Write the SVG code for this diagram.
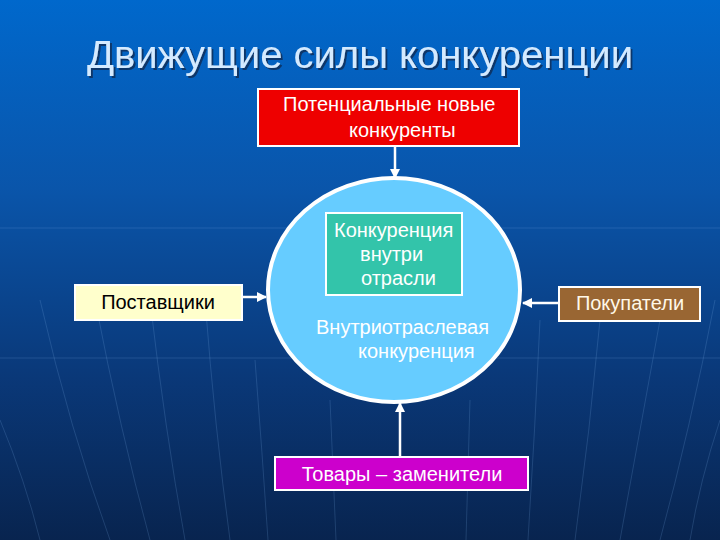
<svg xmlns="http://www.w3.org/2000/svg" width="720" height="540" viewBox="0 0 720 540">
<defs>
<linearGradient id="bg" x1="0" y1="0" x2="0" y2="1">
<stop offset="0" stop-color="#0068CC"/>
<stop offset="0.35" stop-color="#0A55AA"/>
<stop offset="0.7" stop-color="#0A3878"/>
<stop offset="1" stop-color="#08244F"/>
</linearGradient>
<filter id="shadow" x="-5%" y="-20%" width="110%" height="150%">
<feDropShadow dx="2" dy="2" stdDeviation="0.6" flood-color="#0A2A55" flood-opacity="0.8"/>
</filter>
<marker id="ah" viewBox="0 0 10 10" refX="9" refY="5" markerWidth="4" markerHeight="4" orient="auto" markerUnits="strokeWidth">
<path d="M0,0 L10,5 L0,10 z" fill="#FFFFFF"/>
</marker>
<style>
.t{font-family:"Liberation Sans",Arial,sans-serif;font-size:20px;fill:#FFFFFF}
.box{stroke:#FFFFFF;stroke-width:2}
.con{stroke:#FFFFFF;stroke-width:2.5;fill:none;marker-end:url(#ah)}
.grid{stroke:#7FB0E8;stroke-opacity:0.2;stroke-width:1;fill:none}
</style>
</defs>
<rect width="720" height="540" fill="url(#bg)"/>
<g id="background-lines">
<path class="grid" d="M0,228 L720,228"/>
<path class="grid" d="M0,358 L720,358"/>
<path class="grid" d="M40,300 Q70,430 110,540"/>
<path class="grid" d="M95,300 Q120,430 150,540"/>
<path class="grid" d="M150,300 Q165,430 185,540"/>
<path class="grid" d="M205,300 Q215,430 230,540"/>
<path class="grid" d="M255,360 Q262,450 268,540"/>
<path class="grid" d="M330,400 Q333,470 336,540"/>
<path class="grid" d="M470,400 Q468,470 466,540"/>
<path class="grid" d="M540,320 Q535,430 528,540"/>
<path class="grid" d="M600,320 Q590,430 575,540"/>
<path class="grid" d="M660,320 Q640,430 620,540"/>
<path class="grid" d="M715,300 Q690,430 660,540"/>
<path class="grid" d="M0,420 Q25,480 40,540"/>
<path class="grid" d="M720,420 Q700,480 690,540"/>
</g>
<g id="title">
<text x="360" y="68" font-family="'Liberation Sans',Arial,sans-serif" font-size="38" fill="#D4EAFF" text-anchor="middle" textLength="546" lengthAdjust="spacingAndGlyphs" filter="url(#shadow)">Движущие силы конкуренции</text>
</g>
<g id="connectors">
<line class="con" x1="395" y1="147" x2="395" y2="178"/>
<line class="con" x1="242" y1="297" x2="266" y2="297"/>
<line class="con" x1="559" y1="303" x2="523" y2="303"/>
<line class="con" x1="400" y1="457" x2="400" y2="403" stroke-width="3"/>
</g>
<g id="rivalry">
<ellipse cx="394" cy="290" rx="126" ry="112" fill="#66CCFF" stroke="#FFFFFF" stroke-width="4"/>
<text class="t"><tspan x="316" y="334">Внутриотраслевая</tspan><tspan x="358" y="358">конкуренция</tspan></text>
</g>
<g id="inner">
<rect class="box" x="326" y="213" width="136" height="82" fill="#33C4AA"/>
<text class="t"><tspan x="334" y="237">Конкуренция</tspan><tspan x="360" y="261">внутри</tspan><tspan x="361" y="285">отрасли</tspan></text>
</g>
<g id="new-entrants">
<rect class="box" x="258" y="89" width="261" height="57" fill="#EE0000"/>
<text class="t"><tspan x="283" y="111">Потенциальные новые</tspan><tspan x="349" y="137">конкуренты</tspan></text>
</g>
<g id="suppliers">
<rect class="box" x="75" y="285" width="167" height="35" fill="#FFFFCC" stroke-width="1"/>
<text class="t" x="158" y="309" text-anchor="middle" style="fill:#000000">Поставщики</text>
</g>
<g id="buyers">
<rect class="box" x="559" y="287" width="141" height="34" fill="#996633"/>
<text class="t" x="630" y="310" text-anchor="middle" style="fill:#FFF8E8">Покупатели</text>
</g>
<g id="substitutes">
<rect class="box" x="275" y="457" width="253" height="33" fill="#CC00CC"/>
<text class="t" x="402" y="481" text-anchor="middle">Товары – заменители</text>
</g>
</svg>
